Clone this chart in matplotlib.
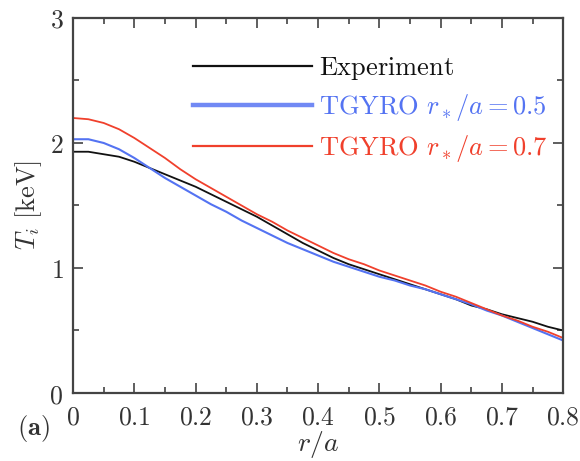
import numpy as np
import matplotlib
matplotlib.use("Agg")
import matplotlib.pyplot as plt
from matplotlib.ticker import MultipleLocator, FuncFormatter

plt.rcParams["mathtext.fontset"] = "cm"
plt.rcParams["font.family"] = "serif"
plt.rcParams["font.serif"] = ["DejaVu Serif"]

# r/a grid and ion temperature profiles [keV]
r = [0.000, 0.025, 0.050, 0.075, 0.100, 0.125, 0.150, 0.175, 0.200,
     0.225, 0.250, 0.275, 0.300, 0.325, 0.350, 0.375, 0.400, 0.425,
     0.450, 0.475, 0.500, 0.525, 0.550, 0.575, 0.600, 0.625, 0.650,
     0.675, 0.700, 0.725, 0.750, 0.775, 0.800]
ti_exp = [1.93, 1.93, 1.91, 1.89, 1.85, 1.80, 1.75, 1.70, 1.65,
          1.59, 1.53, 1.47, 1.41, 1.34, 1.27, 1.20, 1.14, 1.08,
          1.03, 0.99, 0.95, 0.91, 0.87, 0.83, 0.79, 0.75, 0.70,
          0.67, 0.63, 0.60, 0.57, 0.53, 0.50]
ti_05 = [2.03, 2.03, 2.00, 1.95, 1.88, 1.80, 1.72, 1.65, 1.58,
         1.51, 1.45, 1.38, 1.32, 1.26, 1.20, 1.15, 1.10, 1.05,
         1.01, 0.97, 0.93, 0.90, 0.86, 0.83, 0.79, 0.75, 0.71,
         0.66, 0.62, 0.57, 0.52, 0.47, 0.42]
ti_07 = [2.20, 2.19, 2.16, 2.11, 2.04, 1.96, 1.88, 1.79, 1.71,
         1.64, 1.57, 1.50, 1.43, 1.37, 1.30, 1.24, 1.18, 1.12,
         1.07, 1.03, 0.98, 0.94, 0.90, 0.86, 0.81, 0.77, 0.72,
         0.67, 0.62, 0.58, 0.53, 0.49, 0.44]

labels = [r"$\mathrm{Experiment}$",
          r"$\mathrm{TGYRO}\ r_*/a=0.5$",
          r"$\mathrm{TGYRO}\ r_*/a=0.7$"]
colors = ["#111111", "#5473f2", "#f0402c"]
TXT = "#333333"

fig = plt.figure(figsize=(5.8, 4.61), dpi=100)
ax = fig.add_axes([0.126, 0.1475, 0.845, 0.8135])

ax.plot(r, ti_exp, color=colors[0], lw=1.3, label=labels[0])
ax.plot(r, ti_05, color=colors[1], lw=1.5, label=labels[1])
ax.plot(r, ti_07, color=colors[2], lw=1.3, label=labels[2])

ax.set_xlim(0, 0.8)
ax.set_ylim(0, 3)
ax.xaxis.set_major_locator(MultipleLocator(0.1))
ax.xaxis.set_minor_locator(MultipleLocator(0.05))
ax.yaxis.set_major_locator(MultipleLocator(1))
ax.yaxis.set_minor_locator(MultipleLocator(0.5))
ax.xaxis.set_major_formatter(FuncFormatter(lambda v, p: "$0$" if abs(v) < 1e-9 else f"${v:.1f}$"))
ax.yaxis.set_major_formatter(FuncFormatter(lambda v, p: f"${v:.0f}$"))
ax.tick_params(which="both", direction="in", top=True, right=True,
               color="#333333", labelsize=18.5, labelcolor=TXT)
ax.tick_params(axis="x", which="major", pad=8)
ax.tick_params(axis="y", which="major", pad=7)
ax.tick_params(which="major", length=7, width=1.1)
ax.tick_params(which="minor", length=4, width=1.1)
for s in ax.spines.values():
    s.set_linewidth(1.6)
    s.set_color("#444444")

ax.set_xlabel(r"$r/a$", fontsize=20, labelpad=0, color=TXT)
ax.set_ylabel(r"$T_i\ [\mathrm{keV}]$", fontsize=19, labelpad=4, color=TXT)

leg = ax.legend(loc="upper left", bbox_to_anchor=(0.197, 0.965), frameon=False,
                fontsize=19, handlelength=4.5, handletextpad=0.25,
                labelspacing=0.38, labelcolor="linecolor")
for line in leg.get_lines():
    line.set_linewidth(1.6)
leg.get_lines()[1].set_linewidth(3.2)
leg.get_lines()[1].set_color("#7189f4")

fig.text(0.03, 0.056, r"$\mathbf{(a)}$", fontsize=19, color=TXT)

fig.savefig("out.png", dpi=100)
